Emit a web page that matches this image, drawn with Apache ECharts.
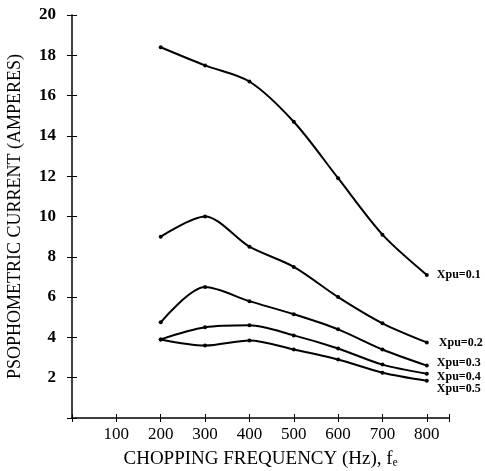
<!DOCTYPE html>
<html>
<head>
<meta charset="utf-8">
<script src="https://cdn.jsdelivr.net/npm/echarts@6/dist/echarts.min.js"></script>
<style>
html, body { margin: 0; padding: 0; background: #fff; }
#main { width: 485px; height: 471px; }
</style>
</head>
<body>
<div id="main"></div>
<script>
var freqs = [200, 300, 400, 500, 600, 700, 800];
var names = ['Xpu=0.1', 'Xpu=0.2', 'Xpu=0.3', 'Xpu=0.4', 'Xpu=0.5'];
var xpu01 = [18.4, 17.5, 16.7, 14.7, 11.9, 9.1, 7.1];
var xpu02 = [9.0, 10.0, 8.5, 7.5, 6.0, 4.7, 3.75];
var xpu03 = [4.75, 6.5, 5.8, 5.15, 4.4, 3.4, 2.6];
var xpu04 = [3.9, 4.5, 4.6, 4.1, 3.45, 2.65, 2.2];
var xpu05 = [3.9, 3.6, 3.85, 3.4, 2.9, 2.25, 1.85];
var allData = [xpu01, xpu02, xpu03, xpu04, xpu05];
var labelOffsets = [[2, 0], [4, 0], [2, -3], [2, 3], [2, 8]];

var font = 'Liberation Serif';

function pairs(arr) {
	return freqs.map(function (f, i) { return [f, arr[i]]; });
}

var myChart = echarts.init(document.getElementById('main'));

var series = allData.map(function (d, i) {
	return {
		name: names[i],
		type: 'line',
		smooth: 0.3,
		data: pairs(d),
		symbol: 'circle',
		symbolSize: 4,
		lineStyle: { color: '#000', width: 2 },
		itemStyle: { color: '#000' },
		endLabel: {
			show: true,
			formatter: names[i],
			offset: labelOffsets[i],
			fontFamily: font,
			fontSize: 12,
			fontWeight: 'bold',
			color: '#000'
		}
	};
});

var xBase = { type: 'value', min: 0, max: 850, interval: 100 };
var yBase = { type: 'value', min: 0, max: 20, interval: 2 };

var option = {
	animation: false,
	grid: { left: 72, right: 36, top: 15, bottom: 53, outerBoundsMode: 'none' },
	xAxis: [
		Object.assign({}, xBase, {
			name: 'CHOPPING FREQUENCY (Hz), f\u2091',
			nameLocation: 'middle',
			nameGap: 32,
			nameTextStyle: { fontFamily: font, fontSize: 19, color: '#000' },
			axisLine: { lineStyle: { color: '#000', width: 1.5 } },
			axisTick: { lineStyle: { color: '#000' }, length: 4 },
			axisLabel: {
				margin: 8,
				fontFamily: font,
				fontSize: 17,
				color: '#000',
				formatter: function (v) { return (v > 0 && v <= 800) ? v : ''; }
			},
			splitLine: { show: false }
		}),
		// second axis only for the inner half of the crossing ticks
		Object.assign({}, xBase, {
			position: 'bottom',
			axisLine: { show: false },
			axisTick: { inside: true, lineStyle: { color: '#000' }, length: 4 },
			axisLabel: { show: false },
			splitLine: { show: false }
		})
	],
	yAxis: [
		Object.assign({}, yBase, {
			name: 'PSOPHOMETRIC CURRENT (AMPERES)',
			nameLocation: 'middle',
			nameGap: 48,
			nameTextStyle: { fontFamily: font, fontSize: 18, color: '#000' },
			axisLine: { show: true, lineStyle: { color: '#000', width: 1.5 } },
			axisTick: { show: true, lineStyle: { color: '#000' }, length: 5 },
			axisLabel: {
				margin: 16,
				fontFamily: font,
				fontSize: 17,
				fontWeight: 'bold',
				color: '#000',
				formatter: function (v) { return v > 0 ? v : ''; }
			},
			splitLine: { show: false }
		}),
		Object.assign({}, yBase, {
			position: 'left',
			axisLine: { show: false },
			axisTick: { show: true, inside: true, lineStyle: { color: '#000' }, length: 5 },
			axisLabel: { show: false },
			splitLine: { show: false }
		})
	],
	series: series
};
myChart.setOption(option);
</script>
</body>
</html>
